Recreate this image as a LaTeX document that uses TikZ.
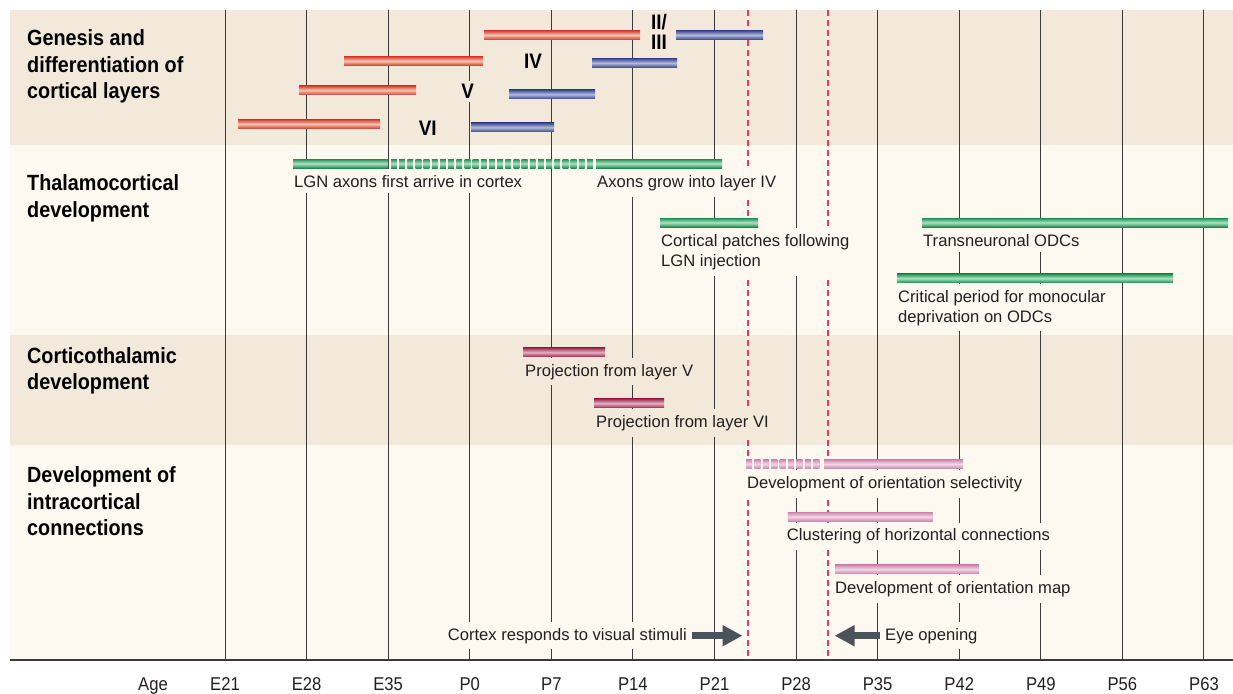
\documentclass[tikz,border=0pt]{standalone}
\usepackage{fontspec}
\setmainfont{Liberation Sans}
\newfontfamily\narrowfont{Liberation Sans}[FakeStretch=0.9]
\usetikzlibrary{positioning,arrows.meta}

\definecolor{bandA}{HTML}{F2E9DA}
\definecolor{bandB}{HTML}{FDF8F0}
\definecolor{gridc}{HTML}{3A3A3A}
\definecolor{stimc}{HTML}{E23C64}
\definecolor{arrowc}{HTML}{4B535A}
\definecolor{txtc}{HTML}{231F20}
\definecolor{redE}{HTML}{D6402F}
\definecolor{redM}{HTML}{F4C4B4}
\definecolor{blueE}{HTML}{3A4A8A}
\definecolor{blueM}{HTML}{B4BADC}
\definecolor{grnE}{HTML}{1A9050}
\definecolor{grnM}{HTML}{B4DEC4}
\definecolor{marE}{HTML}{9E2A4E}
\definecolor{marM}{HTML}{E0B4C4}
\definecolor{pnkE}{HTML}{CC86AC}
\definecolor{pnkM}{HTML}{F2D8E6}

\tikzset{
  redshade/.style={top color=redE, bottom color=redE, middle color=redM},
  blueshade/.style={top color=blueE, bottom color=blueE, middle color=blueM},
  grnshade/.style={top color=grnE, bottom color=grnE, middle color=grnM},
  marshade/.style={top color=marE, bottom color=marE, middle color=marM},
  pnkshade/.style={top color=pnkE, bottom color=pnkE, middle color=pnkM},
  tbar/.style={rectangle, inner sep=0pt, minimum height=9pt, anchor=west},
  redbar/.style={tbar, redshade},
  bluebar/.style={tbar, blueshade},
  grnbar/.style={tbar, grnshade},
  marbar/.style={tbar, marshade},
  pnkbar/.style={tbar, pnkshade},
  lbl/.style={anchor=base west, inner xsep=1pt, inner ysep=6pt, align=left,
    fill=bandB, text=txtc, font=\fontsize{16.6}{20}\selectfont},
  ttl/.style={anchor=base west, inner sep=0pt, align=left, text=black,
    font=\narrowfont\bfseries\fontsize{22}{26.5}\selectfont},
  roman/.style={inner sep=3pt, fill=bandA, align=left, text=black,
    font=\narrowfont\bfseries\fontsize{21}{20}\selectfont},
  agelbl/.style={anchor=base, inner sep=0pt, text=txtc,
    font=\narrowfont\fontsize{18.5}{20}\selectfont},
  bigarrow/.style={draw=arrowc, line width=6.5pt, -{Triangle[length=20pt,width=20pt]}},
  stimline/.style={stimc, line width=1.5pt, dash pattern=on 6pt off 4pt},
}

\begin{document}
\begin{tikzpicture}[x=1pt,y=-1pt]
\useasboundingbox (0,0) rectangle (1233,693);
% bands
\fill[bandA] (10,10) rectangle (1233,145);
\fill[bandB] (10,145) rectangle (1233,335);
\fill[bandA] (10,335) rectangle (1233,445);
\fill[bandB] (10,445) rectangle (1233,660);

% age grid
\foreach \a [count=\n from 0] in {E21,E28,E35,P0,P7,P14,P21,P28,P35,P42,P49,P56,P63}{
  \draw[gridc, line width=1pt] ({225+81.58*\n},10) -- ({225+81.58*\n},660);
  \node[agelbl] (age\n) at ({225+81.58*\n},690) {\a};
}
\node[agelbl] (age) at (153,690) {Age};
\draw[gridc, line width=1.3pt] (10,660) -- (1233,660);
\draw[stimline] (748,10) -- (748,660);
\draw[stimline] (828,10) -- (828,660);

% row titles (base = last line)
\node[ttl] (genesis) at (27,98.5) {Genesis and\\differentiation of\\cortical layers};
\node[ttl] (thal) at (27,217) {Thalamocortical\\development};
\node[ttl] (cort) at (27,389.5) {Corticothalamic\\development};
\node[ttl] (intra) at (27,535.5) {Development of\\intracortical\\connections};

% genesis of layers
\node[redbar, minimum width=156pt] (r1) at (484,35) {};
\node[bluebar, minimum width=87pt] (b1) at (676,35) {};
\node[redbar, minimum width=139pt] (r2) at (344,61) {};
\node[bluebar, minimum width=85pt] (b2) at (592,63) {};
\node[redbar, minimum width=117pt] (r3) at (299,90.3) {};
\node[bluebar, minimum width=86pt] (b3) at (509,94.3) {};
\node[redbar, minimum width=142pt] (r4) at (238,124) {};
\node[bluebar, minimum width=83pt] (b4) at (471,127.3) {};
\node[roman, anchor=west] (l23) at (648,32) {II/\\III};
\node[roman] (l4) at (533,61) {IV};
\node[roman] (l5) at (467.7,91.7) {V};
\node[roman] (l6) at (427.7,128) {VI};

% thalamocortical
\node[grnbar, minimum width=95pt] (lgn) at (293,163.5) {};
\foreach \k in {0,...,24}
  \shade[grnshade] ({391+8.17*\k},159) rectangle ++(5.8,9);
\node[grnbar, minimum width=126pt] (grow) at (596,163.5) {};
\node[lbl] (lgntxt) at ([shift={(0,19)}]lgn.south west) {LGN axons first arrive in cortex};
\node[lbl] (growtxt) at ([shift={(0,19)}]grow.south west) {Axons grow into layer IV};
\node[grnbar, minimum width=98pt] (patch) at (660,222.5) {};
\node[lbl] (patchtxt) at ([shift={(0,39)}]patch.south west) {Cortical patches following\\LGN injection};
\node[grnbar, minimum width=306pt] (odc) at (922,222.5) {};
\node[lbl] (odctxt) at ([shift={(0,19)}]odc.south west) {Transneuronal ODCs};
\node[grnbar, minimum width=276pt] (crit) at (897,278.3) {};
\node[lbl] (crittxt) at ([shift={(0,39)}]crit.south west) {Critical period for monocular\\deprivation on ODCs};

% corticothalamic
\node[marbar, minimum width=82pt] (projV) at (523,352.3) {};
\node[lbl, fill=bandA] (projVtxt) at ([shift={(1,19)}]projV.south west) {Projection from layer V};
\node[marbar, minimum width=70pt] (projVI) at (594,403.3) {};
\node[lbl, fill=bandA] (projVItxt) at ([shift={(1,19.5)}]projVI.south west) {Projection from layer VI};

% intracortical
\coordinate (orsel0) at (746,468.5);
\foreach \k in {0,...,8}
  \shade[pnkshade] ({746+8.4*\k},459.5) rectangle ++(6.2,9);
\node[pnkbar, minimum width=139pt] (orsel) at (824,464) {};
\node[lbl] (orseltxt) at ([shift={(0,20)}]orsel0) {Development of orientation selectivity};
\node[pnkbar, minimum width=145pt] (clust) at (787.7,516.7) {};
\node[lbl] (clusttxt) at ([shift={(-2,19.5)}]clust.south west) {Clustering of horizontal connections};
\node[pnkbar, minimum width=144pt] (ormap) at (835,569.3) {};
\node[lbl] (ormaptxt) at ([shift={(-1,19.5)}]ormap.south west) {Development of orientation map};

% stimuli and eye opening
\node[lbl, anchor=base east] (cortex) at (688,640) {Cortex responds to visual stimuli};
\coordinate (stimtip) at (742.5,634);
\draw[bigarrow] ([xshift=4pt]cortex.east) -- (cortex.east -| stimtip);
\node[lbl] (eye) at (884,640) {Eye opening};
\coordinate (eyetip) at (834.6,634);
\draw[bigarrow] ([xshift=-4pt]eye.west) -- (eye.west -| eyetip);
\end{tikzpicture}
\end{document}
